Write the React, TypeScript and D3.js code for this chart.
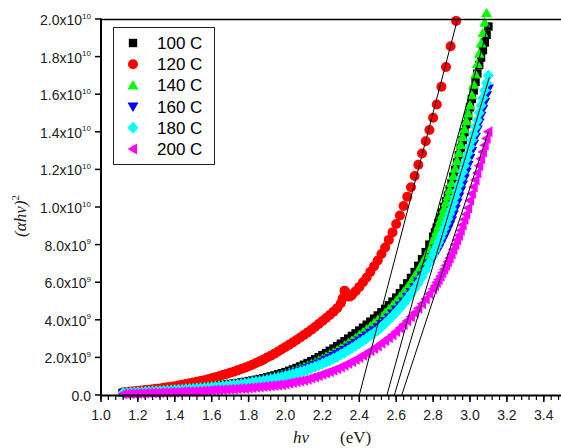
import React from 'react';
import * as d3 from 'd3';

// photon energy grid for the 100, 140, 160, 180, 200 C samples (eV)
const HV = [
  1.12, 1.14, 1.16, 1.18, 1.2, 1.22, 1.24, 1.26, 1.28, 1.3, 1.32, 1.34, 1.36, 1.38, 1.4, 1.42, 1.44, 1.46, 1.48, 1.5,
  1.52, 1.54, 1.56, 1.58, 1.6, 1.62, 1.64, 1.66, 1.68, 1.7, 1.72, 1.74, 1.76, 1.78, 1.8, 1.82, 1.84, 1.86, 1.88, 1.9,
  1.92, 1.94, 1.96, 1.98, 2.0, 2.02, 2.04, 2.06, 2.08, 2.1, 2.12, 2.14, 2.16, 2.18, 2.2, 2.22, 2.24, 2.26, 2.28, 2.3,
  2.32, 2.34, 2.36, 2.38, 2.4, 2.42, 2.44, 2.46, 2.48, 2.5, 2.52, 2.54, 2.56, 2.58, 2.6, 2.62, 2.64, 2.66, 2.68, 2.7,
  2.72, 2.74, 2.76, 2.78, 2.8,
  2.81, 2.82, 2.83, 2.84, 2.85, 2.86, 2.87, 2.88, 2.89, 2.9, 2.91, 2.92, 2.93, 2.94, 2.95, 2.96, 2.97, 2.98, 2.99, 3.0,
  3.01, 3.02, 3.03, 3.04, 3.05, 3.06, 3.07, 3.08, 3.09, 3.1,
];

// (ahv)^2 in units of 1e9
const C100 = [
  0.12, 0.13, 0.14, 0.16, 0.17, 0.18, 0.19, 0.21, 0.22, 0.23, 0.24, 0.26, 0.27, 0.29, 0.3, 0.32, 0.33, 0.35, 0.36, 0.38,
  0.4, 0.42, 0.44, 0.46, 0.48, 0.5, 0.52, 0.54, 0.56, 0.59, 0.61, 0.64, 0.67, 0.7, 0.74, 0.77, 0.81, 0.85, 0.89, 0.94,
  0.99, 1.04, 1.1, 1.16, 1.22, 1.29, 1.36, 1.44, 1.52, 1.61, 1.7, 1.8, 1.9, 2.01, 2.12, 2.23, 2.35, 2.47, 2.6, 2.73,
  2.86, 3.0, 3.14, 3.28, 3.43, 3.58, 3.74, 3.9, 4.06, 4.23, 4.4, 4.58, 4.77, 4.97, 5.18, 5.42, 5.67, 5.94, 6.23, 6.54,
  6.87, 7.22, 7.6, 8.0, 8.42,
  8.65, 8.9, 9.16, 9.43, 9.71, 10.0, 10.3, 10.61, 10.93, 11.27, 11.62, 11.98, 12.36, 12.75, 13.15, 13.56, 13.98, 14.41, 14.85, 15.3,
  15.75, 16.2, 16.65, 17.1, 17.55, 17.95, 18.35, 18.75, 19.15, 19.6,
];
const C140 = [
  0.12, 0.13, 0.14, 0.15, 0.16, 0.17, 0.18, 0.2, 0.21, 0.22, 0.23, 0.25, 0.26, 0.28, 0.29, 0.31, 0.32, 0.34, 0.35, 0.37,
  0.38, 0.4, 0.42, 0.44, 0.46, 0.48, 0.5, 0.52, 0.54, 0.56, 0.58, 0.61, 0.63, 0.66, 0.69, 0.72, 0.75, 0.79, 0.83, 0.87,
  0.91, 0.96, 1.01, 1.06, 1.12, 1.18, 1.25, 1.32, 1.39, 1.47, 1.55, 1.64, 1.73, 1.83, 1.93, 2.03, 2.14, 2.25, 2.37, 2.49,
  2.62, 2.75, 2.89, 3.03, 3.18, 3.33, 3.49, 3.65, 3.82, 3.99, 4.17, 4.36, 4.56, 4.77, 4.99, 5.22, 5.47, 5.73, 6.01, 6.31,
  6.63, 6.98, 7.36, 7.77, 8.2,
  8.45, 8.72, 9.0, 9.29, 9.59, 9.9, 10.22, 10.56, 10.91, 11.27, 11.65, 12.04, 12.45, 12.87, 13.3, 13.72, 14.14, 14.56, 14.98, 15.4,
  15.95, 16.5, 17.05, 17.6, 18.15, 18.7, 19.25, 19.8, 20.3,
];
const C160 = [
  0.11, 0.12, 0.13, 0.14, 0.15, 0.16, 0.17, 0.18, 0.19, 0.2, 0.21, 0.22, 0.23, 0.25, 0.26, 0.27, 0.29, 0.3, 0.32, 0.33,
  0.35, 0.37, 0.38, 0.4, 0.42, 0.44, 0.46, 0.48, 0.5, 0.52, 0.55, 0.57, 0.6, 0.63, 0.66, 0.69, 0.72, 0.75, 0.79, 0.83,
  0.87, 0.91, 0.95, 1.0, 1.05, 1.1, 1.16, 1.22, 1.29, 1.36, 1.43, 1.51, 1.59, 1.68, 1.77, 1.87, 1.97, 2.07, 2.18, 2.29,
  2.4, 2.52, 2.64, 2.77, 2.9, 3.03, 3.17, 3.31, 3.45, 3.6, 3.77, 3.94, 4.12, 4.33, 4.55, 4.76, 4.98, 5.22, 5.48, 5.75,
  6.04, 6.35, 6.67, 7.0, 7.3,
  7.46, 7.63, 7.81, 8.0, 8.2, 8.4, 8.61, 8.83, 9.06, 9.3, 9.6, 9.91, 10.23, 10.56, 10.88, 11.2, 11.53, 11.88, 12.24, 12.6,
  12.98, 13.36, 13.74, 14.12, 14.5, 14.86, 15.22, 15.58, 15.94, 16.3,
];
const C180 = [
  0.1, 0.11, 0.12, 0.13, 0.14, 0.15, 0.16, 0.17, 0.18, 0.19, 0.2, 0.21, 0.22, 0.23, 0.25, 0.26, 0.27, 0.29, 0.3, 0.32,
  0.33, 0.35, 0.36, 0.38, 0.4, 0.42, 0.44, 0.46, 0.48, 0.5, 0.52, 0.55, 0.57, 0.6, 0.63, 0.66, 0.69, 0.72, 0.75, 0.79,
  0.83, 0.87, 0.91, 0.95, 1.0, 1.05, 1.1, 1.16, 1.22, 1.28, 1.35, 1.42, 1.5, 1.58, 1.66, 1.75, 1.84, 1.94, 2.04, 2.15,
  2.26, 2.38, 2.5, 2.62, 2.75, 2.88, 3.02, 3.16, 3.3, 3.45, 3.62, 3.8, 3.99, 4.19, 4.4, 4.62, 4.85, 5.1, 5.37, 5.65,
  5.95, 6.28, 6.63, 7.02, 7.45,
  7.67, 7.9, 8.13, 8.37, 8.61, 8.86, 9.12, 9.38, 9.64, 9.9, 10.22, 10.54, 10.86, 11.19, 11.52, 11.86, 12.19, 12.52, 12.86, 13.2,
  13.55, 13.9, 14.25, 14.62, 15.0, 15.4, 15.8, 16.2, 16.6, 17.0,
];
const C200 = [
  0.05, 0.05, 0.06, 0.07, 0.08, 0.08, 0.09, 0.1, 0.1, 0.11, 0.12, 0.13, 0.13, 0.14, 0.15, 0.16, 0.17, 0.18, 0.18, 0.19,
  0.2, 0.21, 0.22, 0.23, 0.25, 0.26, 0.27, 0.28, 0.29, 0.3, 0.31, 0.33, 0.34, 0.35, 0.37, 0.39, 0.41, 0.43, 0.45, 0.47,
  0.49, 0.51, 0.53, 0.55, 0.58, 0.62, 0.66, 0.7, 0.74, 0.79, 0.84, 0.9, 0.96, 1.03, 1.1, 1.17, 1.24, 1.32, 1.4, 1.49,
  1.58, 1.68, 1.78, 1.89, 2.0, 2.11, 2.23, 2.35, 2.48, 2.61, 2.75, 2.9, 3.05, 3.21, 3.38, 3.56, 3.75, 3.95, 4.16, 4.38,
  4.62, 4.86, 5.11, 5.38, 5.65,
  5.81, 5.98, 6.15, 6.32, 6.5, 6.69, 6.89, 7.09, 7.29, 7.5, 7.74, 7.99, 8.24, 8.49, 8.75, 9.04, 9.33, 9.62, 9.95, 10.35,
  10.7, 11.06, 11.43, 11.81, 12.2, 12.56, 12.92, 13.28, 13.64, 14.0,
];

// 120 C sample has its own energy grid
const HV_120 = [
  1.12, 1.14, 1.16, 1.18, 1.2, 1.22, 1.24, 1.26, 1.28, 1.3, 1.32, 1.34, 1.36, 1.38, 1.4, 1.42, 1.44, 1.46, 1.48, 1.5,
  1.52, 1.54, 1.56, 1.58, 1.6, 1.62, 1.64, 1.66, 1.68, 1.7, 1.72, 1.74, 1.76, 1.78, 1.8, 1.82, 1.84, 1.86, 1.88, 1.9,
  1.92, 1.94, 1.96, 1.98, 2.0, 2.02, 2.04, 2.06, 2.08, 2.1, 2.12, 2.14, 2.16, 2.18, 2.2, 2.22, 2.24, 2.26, 2.28, 2.3,
  2.31, 2.32, 2.33, 2.34, 2.35, 2.36, 2.38, 2.4, 2.42, 2.44, 2.46, 2.48, 2.5, 2.52, 2.54, 2.56, 2.58, 2.6, 2.62, 2.64, 2.66, 2.68, 2.7,
  2.72, 2.74, 2.76, 2.78, 2.8, 2.82, 2.845, 2.87, 2.895, 2.925,
];
const C120 = [
  0.15, 0.16, 0.18, 0.2, 0.22, 0.24, 0.26, 0.28, 0.3, 0.33, 0.35, 0.38, 0.41, 0.44, 0.47, 0.5, 0.54, 0.58, 0.62, 0.66,
  0.7, 0.74, 0.79, 0.84, 0.89, 0.94, 1.0, 1.06, 1.12, 1.18, 1.24, 1.31, 1.38, 1.45, 1.53, 1.61, 1.7, 1.79, 1.88, 1.99,
  2.09, 2.2, 2.31, 2.43, 2.55, 2.67, 2.8, 2.93, 3.06, 3.19, 3.33, 3.47, 3.62, 3.78, 3.94, 4.1, 4.26, 4.43, 4.62, 4.88,
  5.15, 5.55, 5.42, 5.24, 5.24, 5.32, 5.52, 5.75, 6.0, 6.25, 6.55, 6.85, 7.15, 7.5, 7.85, 8.25, 8.65, 9.1, 9.55, 10.05, 10.55, 11.05, 11.65,
  12.25, 12.85, 13.5, 14.1, 14.75, 15.45, 16.4, 17.45, 18.55, 19.9,
];

const LABELS = ['100 C', '120 C', '140 C', '160 C', '180 C', '200 C'];
const COLORS = ['#000000', '#ff0000', '#00ff00', '#0000ff', '#00ffff', '#ff00ff'];

// linear fits: [x-intercept, end hv, end value]
const FITS = [
  [2.4, 2.93, 19.9],
  [2.55, 3.1, 19.7],
  [2.59, 3.105, 16.9],
  [2.63, 3.1, 14.0],
];

const shapes = [
  'M-4.2,-4.2h8.4v8.4h-8.4z',
  'M-5,0a5,5 0 1,0 10,0a5,5 0 1,0 -10,0z',
  'M0,-5.5L5.5,4L-5.5,4Z',
  'M0,5.5L5.5,-4L-5.5,-4Z',
  'M0,-6L5.5,0L0,6L-5.5,0Z',
  'M-5.5,0L4,-5.5L4,5.5Z',
];

const SANS = '"Liberation Sans", Arial, sans-serif';
const SERIF = '"Liberation Serif", "Times New Roman", serif';

export default function App() {
  const W = 561, H = 448;
  const x = d3.scaleLinear().domain([1, 3.5]).range([101, 562.25]);
  const y = d3.scaleLinear().domain([0, 20]).range([395, 19]);

  const series = [
    { hv: HV, v: C100 },
    { hv: HV_120, v: C120 },
    { hv: HV, v: C140 },
    { hv: HV, v: C160 },
    { hv: HV, v: C180 },
    { hv: HV, v: C200 },
  ];

  const majors = d3.range(0, 13).map(i => 1 + i * 0.2);
  const minors = d3.range(0, 63).map(i => 1 + i * 0.04);
  const yTicks = d3.range(0, 11).map(i => i * 2);

  const yLabel = (v: number) => {
    if (v === 0) return { m: '0.0', e: '' };
    if (v < 10) return { m: v.toFixed(1) + 'x10', e: '9' };
    return { m: (v / 10).toFixed(1) + 'x10', e: '10' };
  };

  return (
    <svg width={W} height={H} style={{ position: 'absolute', left: 0, top: 0, background: '#fff' }}>
      {/* markers */}
      {series.map((s, si) => (
        <g key={si} fill={COLORS[si]}>
          {s.v.map((v, i) => (
            <path key={i} d={shapes[si]} transform={`translate(${x(s.hv[i])},${y(v)})`} />
          ))}
        </g>
      ))}

      {/* fit lines */}
      {FITS.map((f, i) => (
        <line key={i} x1={x(f[0])} y1={y(0)} x2={x(f[1])} y2={y(f[2])} stroke="#000" strokeWidth={1} />
      ))}

      {/* frame */}
      <line x1={101} y1={19.5} x2={W} y2={19.5} stroke="#000" strokeWidth={1.5} />
      <line x1={101} y1={18.5} x2={101} y2={396} stroke="#000" strokeWidth={2} />
      <line x1={100} y1={395.5} x2={W} y2={395.5} stroke="#000" strokeWidth={2} />

      {/* x ticks */}
      {minors.map((t, i) => (
        <line key={'m' + i} x1={x(t)} x2={x(t)} y1={396} y2={400} stroke="#000" strokeWidth={1.2} />
      ))}
      {majors.map((t, i) => (
        <g key={'M' + i}>
          <line x1={x(t)} x2={x(t)} y1={396} y2={402} stroke="#000" strokeWidth={1.5} />
          <text x={x(t)} y={420} textAnchor="middle" fontFamily={SANS} fontSize={14} fill="#222">
            {t.toFixed(1)}
          </text>
        </g>
      ))}

      {/* y ticks */}
      {yTicks.map((t, i) => {
        const l = yLabel(t);
        return (
          <g key={'y' + i}>
            <line x1={95} x2={101} y1={y(t)} y2={y(t)} stroke="#000" strokeWidth={1.5} />
            <text x={91} y={y(t) + 6} textAnchor="end" fontFamily={SANS} fontSize={14} fill="#222">
              {l.m}
              {l.e && <tspan fontSize={8} dy={-6.5}>{l.e}</tspan>}
            </text>
          </g>
        );
      })}

      {/* axis titles */}
      <text transform="translate(26,216) rotate(-90)" textAnchor="middle" fontFamily={SERIF} fontStyle="italic" fontSize={17} fill="#222">
        (αhν)<tspan fontSize={11} dy={-7} fontStyle="normal">2</tspan>
      </text>
      <text x={293} y={443} fontFamily={SERIF} fontStyle="italic" fontSize={17} fill="#222">hν</text>
      <text x={340} y={443} fontFamily={SERIF} fontSize={17} fill="#222">(eV)</text>

      {/* legend */}
      <rect x={113.5} y={27.5} width={101} height={137} fill="#fff" stroke="#222" strokeWidth={1} />
      {LABELS.map((lab, i) => (
        <g key={'l' + i} transform={`translate(0,${43 + i * 21.2})`}>
          <path d={shapes[i]} transform="translate(133,0)" fill={COLORS[i]} />
          <text x={157} y={6} fontFamily={SANS} fontSize={17} fill="#000">{lab}</text>
        </g>
      ))}
    </svg>
  );
}
